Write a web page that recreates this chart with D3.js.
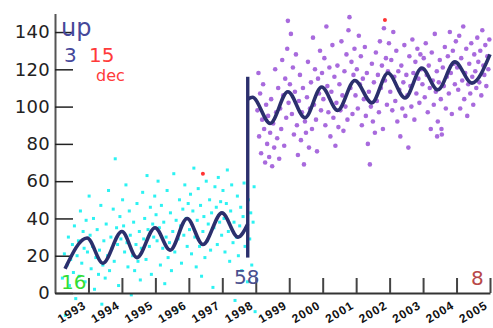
<!DOCTYPE html>
<html>
<head>
<meta charset="utf-8">
<style>
  body { margin: 0; background: #fff; }
  svg { display: block; font-family: "DejaVu Sans", sans-serif; }
</style>
</head>
<body>
<svg width="493" height="328"></svg>
<script src="https://d3js.org/d3.v7.min.js"></script>
<script>

// tick labels
var years = [1993, 1994, 1995, 1996, 1997, 1998, 1999, 2000, 2001, 2002, 2003, 2004, 2005];
var yTicks = [0, 20, 40, 60, 80, 100, 120, 140];

// fitted curve, before and after the break
var fitBefore = [[1992.3,13],[1992.96,29.5],[1993.43,16],[1994.0,33],[1994.45,19],[1994.99,35],
  [1995.44,23],[1995.95,40],[1996.42,26],[1996.99,43],[1997.47,30],[1997.76,37]];
var fitAfter = [[1997.76,104],[1997.9,105],[1998.43,91],[1998.96,108],[1999.47,94],[1999.97,110.5],
  [2000.45,98],[2000.96,114],[2001.47,102],[2001.95,118],[2002.46,104.6],[2002.96,120.7],
  [2003.44,109],[2003.95,124],[2004.46,112.6],[2005,128]];
var breakLine = [[1997.76,19],[1997.76,116]];

// observations, period 1
var cyanPts = [
  [1992.22,8],[1992.28,21],[1992.31,-12],[1992.36,15],[1992.4,30],[1992.43,4],[1992.47,18],[1992.52,26],
  [1992.55,11],[1992.58,36],[1992.62,-3],[1992.66,20],[1992.7,28],[1992.72,9],[1992.76,44],[1992.8,16],
  [1992.84,33],[1992.87,24],[1992.9,6],[1992.93,39],[1992.97,22],
  [1993.02,52],[1993.05,31],[1993.08,13],[1993.12,25],[1993.15,40],[1993.18,2],[1993.22,19],[1993.26,34],
  [1993.3,10],[1993.33,23],[1993.37,47],[1993.4,-6],[1993.43,15],[1993.46,28],[1993.5,8],[1993.53,37],
  [1993.57,20],[1993.6,55],[1993.63,12],[1993.67,30],[1993.7,24],[1993.74,45],[1993.77,17],[1993.8,72],
  [1993.84,35],[1993.87,26],[1993.9,4],[1993.94,41],[1993.97,29],
  [1994.02,50],[1994.05,36],[1994.08,22],[1994.12,58],[1994.15,27],[1994.18,14],[1994.22,44],[1994.25,31],
  [1994.28,-1],[1994.32,20],[1994.35,38],[1994.38,12],[1994.42,26],[1994.45,48],[1994.48,17],[1994.52,33],
  [1994.55,7],[1994.58,24],[1994.62,54],[1994.65,29],[1994.68,40],[1994.72,18],[1994.75,63],[1994.78,34],
  [1994.82,25],[1994.85,46],[1994.88,10],[1994.92,37],[1994.95,30],[1994.98,52],
  [1995.02,42],[1995.05,28],[1995.08,60],[1995.12,35],[1995.15,15],[1995.18,47],[1995.22,24],[1995.25,38],
  [1995.28,5],[1995.32,30],[1995.35,55],[1995.38,19],[1995.42,27],[1995.45,43],[1995.48,12],[1995.52,33],
  [1995.55,64],[1995.58,22],[1995.62,39],[1995.65,-9],[1995.68,29],[1995.72,50],[1995.75,36],[1995.78,16],
  [1995.82,45],[1995.85,31],[1995.88,58],[1995.92,40],[1995.95,25],[1995.98,48],
  [1996.02,34],[1996.05,53],[1996.08,21],[1996.12,44],[1996.15,67],[1996.18,30],[1996.22,14],[1996.25,39],
  [1996.28,56],[1996.32,25],[1996.35,47],[1996.38,9],[1996.42,33],[1996.45,41],[1996.48,19],[1996.52,60],
  [1996.55,28],[1996.58,37],[1996.62,50],[1996.65,23],[1996.68,43],[1996.72,3],[1996.75,35],[1996.78,57],
  [1996.82,46],[1996.85,26],[1996.88,62],[1996.92,38],[1996.95,49],[1996.98,31],
  [1997.02,55],[1997.05,40],[1997.08,22],[1997.12,48],[1997.15,66],[1997.18,33],[1997.22,17],[1997.25,44],
  [1997.28,58],[1997.32,27],[1997.35,38],[1997.38,-4],[1997.42,30],[1997.45,52],[1997.48,20],[1997.52,36],
  [1997.55,46],[1997.58,12],[1997.62,41],[1997.65,59],[1997.68,25],[1997.72,34],[1997.75,6],[1997.78,50],
  [1997.82,29],[1997.85,43],[1997.88,15],[1997.92,38],[1997.95,57],[1997.98,-10]
];

// observations, period 2
var purplePts = [
  [1998.05,98],[1998.08,118],[1998.1,84],[1998.13,107],[1998.16,75],[1998.19,93],[1998.22,112],[1998.25,88],
  [1998.28,70],[1998.31,101],[1998.34,80],[1998.37,95],[1998.4,73],[1998.43,86],[1998.46,104],[1998.49,68],
  [1998.52,91],[1998.55,78],[1998.58,120],[1998.61,97],[1998.64,83],[1998.67,110],[1998.7,72],[1998.73,99],
  [1998.76,88],[1998.79,125],[1998.82,106],[1998.85,79],[1998.88,115],[1998.91,94],[1998.94,131],[1998.96,146],
  [1998.98,102],
  [1999.02,112],[1999.05,139],[1999.08,96],[1999.11,121],[1999.14,85],[1999.17,108],[1999.2,128],[1999.23,90],
  [1999.26,74],[1999.29,103],[1999.32,117],[1999.35,82],[1999.38,97],[1999.41,110],[1999.44,69],[1999.47,92],
  [1999.5,86],[1999.53,105],[1999.56,124],[1999.59,78],[1999.62,99],[1999.65,113],[1999.68,88],[1999.71,137],
  [1999.74,101],[1999.77,120],[1999.8,93],[1999.83,76],[1999.86,115],[1999.89,107],[1999.92,130],[1999.95,98],
  [1999.98,118],
  [2000.02,104],[2000.05,126],[2000.08,90],[2000.11,143],[2000.14,111],[2000.17,97],[2000.2,121],[2000.23,84],
  [2000.26,108],[2000.29,133],[2000.32,94],[2000.35,116],[2000.38,79],[2000.41,102],[2000.44,122],[2000.47,89],
  [2000.5,112],[2000.53,98],[2000.56,135],[2000.59,106],[2000.62,87],[2000.65,119],[2000.68,100],[2000.71,128],
  [2000.74,93],[2000.77,141],[2000.8,148],[2000.83,110],[2000.86,124],[2000.89,96],[2000.92,117],[2000.95,131],
  [2000.98,106],
  [2001.02,120],[2001.05,99],[2001.08,138],[2001.11,112],[2001.14,127],[2001.17,90],[2001.2,115],[2001.23,104],
  [2001.26,132],[2001.29,95],[2001.32,118],[2001.35,80],[2001.38,108],[2001.41,69],[2001.44,100],[2001.47,123],
  [2001.5,92],[2001.53,113],[2001.56,86],[2001.59,129],[2001.62,103],[2001.65,117],[2001.68,97],[2001.71,135],
  [2001.74,110],[2001.77,122],[2001.8,88],[2001.83,142],[2001.86,114],[2001.89,126],[2001.92,101],[2001.95,119],
  [2001.98,134],
  [2002.02,108],[2002.05,125],[2002.08,98],[2002.11,140],[2002.14,116],[2002.17,103],[2002.2,130],[2002.23,92],
  [2002.26,119],[2002.29,109],[2002.32,84],[2002.35,122],[2002.38,99],[2002.41,113],[2002.44,133],[2002.47,95],
  [2002.5,117],[2002.53,106],[2002.56,78],[2002.59,127],[2002.62,111],[2002.65,100],[2002.68,136],[2002.71,118],
  [2002.74,93],[2002.77,124],[2002.8,107],[2002.83,131],[2002.86,115],[2002.89,102],[2002.92,128],[2002.95,120],
  [2002.98,112],
  [2003.02,126],[2003.05,105],[2003.08,134],[2003.11,117],[2003.14,97],[2003.17,122],[2003.2,110],[2003.23,88],
  [2003.26,129],[2003.29,114],[2003.32,101],[2003.35,139],[2003.38,108],[2003.41,119],[2003.42,84],[2003.44,92],
  [2003.47,113],[2003.5,125],[2003.53,104],[2003.55,88],[2003.56,85],[2003.59,121],[2003.62,111],[2003.65,132],
  [2003.68,99],[2003.71,116],[2003.74,127],[2003.77,107],[2003.8,140],[2003.83,118],[2003.86,96],[2003.89,130],
  [2003.92,123],[2003.95,112],[2003.98,135],
  [2004.02,121],[2004.05,109],[2004.08,138],[2004.11,99],[2004.14,126],[2004.17,114],[2004.2,143],[2004.23,104],
  [2004.26,118],[2004.29,131],[2004.32,95],[2004.35,112],[2004.38,123],[2004.41,107],[2004.44,134],[2004.47,116],
  [2004.5,101],[2004.53,128],[2004.56,119],[2004.59,110],[2004.62,137],[2004.65,124],[2004.68,113],[2004.71,130],
  [2004.74,106],[2004.77,141],[2004.8,122],[2004.83,117],[2004.86,133],[2004.89,111],[2004.92,127],[2004.95,120],
  [2004.98,136]
];

// flagged points
var redPts = [[1996.42,64],[2001.86,146.5]];

var svg = d3.select("svg");

var x = d3.scaleLinear().domain([1992, 2005]).range([55, 490]);
var y = d3.scaleLinear().domain([0, 150]).range([293, 13.4]);

// points
svg.append("g").selectAll("rect")
    .data(cyanPts)
  .enter().append("rect")
    .attr("x", function(d) { return x(d[0]) - 1.5; })
    .attr("y", function(d) { return y(d[1]) - 1.5; })
    .attr("width", 3)
    .attr("height", 3)
    .attr("fill", "#2cf2f2");

svg.append("g").selectAll("circle")
    .data(purplePts)
  .enter().append("circle")
    .attr("cx", function(d) { return x(d[0]); })
    .attr("cy", function(d) { return y(d[1]); })
    .attr("r", 2.3)
    .attr("fill", "#9245d4")
    .attr("fill-opacity", 0.8);

svg.append("g").selectAll("circle")
    .data(redPts)
  .enter().append("circle")
    .attr("cx", function(d) { return x(d[0]); })
    .attr("cy", function(d) { return y(d[1]); })
    .attr("r", 2)
    .attr("fill", "#ff3333");

// axes
var yAxis = d3.axisLeft(y).tickValues(yTicks).tickSize(-18).tickSizeOuter(0).tickPadding(5);
var gy = svg.append("g").attr("transform", "translate(55,0)").call(yAxis);
gy.select(".domain").attr("stroke", "#555").attr("stroke-width", 2);
gy.selectAll(".tick line").attr("stroke", "#222").attr("stroke-width", 1.5);
gy.selectAll(".tick text").attr("font-size", 18).attr("fill", "#222")
    .attr("letter-spacing", 0.3)
    .attr("font-family", "DejaVu Sans");

var xAxis = d3.axisBottom(x).tickValues(years).tickSize(-15).tickSizeOuter(0)
    .tickFormat(d3.format("d"));
var gx = svg.append("g").attr("transform", "translate(0,293)").call(xAxis);
gx.select(".domain").attr("stroke", "#333").attr("stroke-width", 2);
gx.selectAll(".tick line").attr("stroke", "#444").attr("stroke-width", 2);
gx.selectAll(".tick text")
    .attr("font-size", 12)
    .attr("font-weight", "bold")
    .attr("letter-spacing", 1)
    .attr("fill", "#111")
    .attr("text-anchor", "end")
    .attr("dy", "0.35em")
    .attr("y", 0)
    .attr("transform", "translate(-4,11) rotate(-31)");

// fitted curve
var line = d3.line()
    .x(function(d) { return x(d[0]); })
    .y(function(d) { return y(d[1]); })
    .curve(d3.curveMonotoneX);

[fitBefore, fitAfter].forEach(function(seg) {
  svg.append("path")
      .datum(seg)
      .attr("d", line)
      .attr("fill", "none")
      .attr("stroke", "#2b2f6d")
      .attr("stroke-width", 3.6)
      .attr("stroke-linejoin", "round");
});
svg.append("path")
    .datum(breakLine)
    .attr("d", d3.line().x(function(d) { return x(d[0]); }).y(function(d) { return y(d[1]); }))
    .attr("stroke", "#2b2f6d")
    .attr("stroke-width", 3.4);

// labels
var labels = [
  {t: "up", x: 61, y: 36, s: 24, c: "#45489a"},
  {t: "3", x: 64, y: 62, s: 20, c: "#45489a"},
  {t: "15", x: 89, y: 62, s: 20, c: "#ff3a3a"},
  {t: "dec", x: 96, y: 81, s: 16, c: "#ff3a3a"},
  {t: "16", x: 61, y: 289, s: 20, c: "#33dd33"},
  {t: "58", x: 234, y: 284, s: 20, c: "#4a4f8f"},
  {t: "8", x: 471, y: 285, s: 20, c: "#b84848"}
];
svg.append("g").selectAll("text")
    .data(labels)
  .enter().append("text")
    .attr("x", function(d) { return d.x; })
    .attr("y", function(d) { return d.y; })
    .attr("font-size", function(d) { return d.s; })
    .attr("fill", function(d) { return d.c; })
    .text(function(d) { return d.t; });

</script>
</body>
</html>
